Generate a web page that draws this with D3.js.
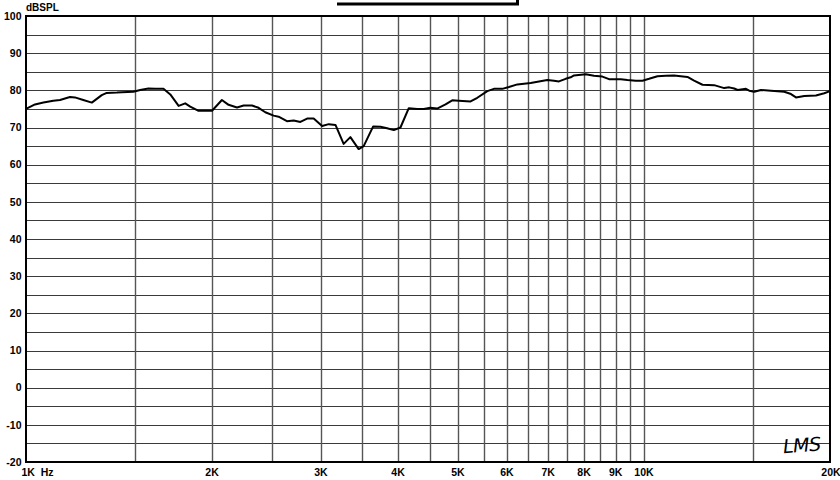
<!DOCTYPE html>
<html><head><meta charset="utf-8">
<script src="https://cdn.jsdelivr.net/npm/d3@7"></script>
<style>
html,body{margin:0;padding:0;background:#fff;}
svg{display:block;}
text{font-family:"Liberation Sans",Arial,sans-serif;font-weight:bold;fill:#000;}
</style></head><body>
<svg id="c" width="840" height="480"></svg>
<script>
// ---- data ----
const freqs = [1000,1034,1067,1107,1135,1178,1200,1238,1278,1326,1351,1403,1429,1492,1530,1578,1618,1669,1712,1766,1810,1844,1902,2000,2075,2127,2195,2250,2321,2379,2439,2516,2563,2644,2711,2780,2850,2921,3014,3090,3168,3266,3349,3454,3519,3646,3746,3840,3937,4036,4163,4296,4403,4512,4627,4774,4895,5016,5241,5374,5578,5717,5898,6046,6239,6555,6762,6976,7150,7285,7469,7610,7704,8049,8301,8565,8779,9173,9402,9699,9944,10192,10516,10847,11187,11470,11760,12053,12436,12988,13484,13738,13997,14176,14443,14622,14803,15081,15463,16049,16866,17293,17619,18173,18979,19576,20000];
const spl = [75.0,76.2,76.7,77.2,77.4,78.2,78.1,77.4,76.7,78.7,79.3,79.4,79.5,79.6,80.1,80.5,80.4,80.4,78.9,75.8,76.5,75.6,74.5,74.5,77.4,76.1,75.4,75.9,75.9,75.3,74.1,73.2,72.9,71.7,71.9,71.5,72.4,72.4,70.4,70.9,70.7,65.6,67.4,64.2,65.0,70.3,70.2,69.8,69.3,70.0,75.2,75.0,75.0,75.3,75.1,76.2,77.3,77.2,77.0,78.0,79.8,80.4,80.4,80.9,81.6,82.0,82.4,82.8,82.6,82.4,83.1,83.5,84.0,84.3,83.9,83.7,83.0,83.0,82.8,82.6,82.6,83.1,83.8,83.9,84.0,83.8,83.6,82.6,81.5,81.4,80.6,80.8,80.5,80.1,80.3,80.4,79.9,79.6,80.1,79.9,79.6,79.0,78.1,78.5,78.6,79.2,79.8];
const gridFreqs = [1500,2000,2500,3000,3500,4000,4500,5000,5500,6000,6500,7000,7500,8000,8500,9000,9500,10000,15000];
const xTickFreqs = [2000,3000,4000,5000,6000,7000,8000,9000,10000,20000];
const xTickLabels = ["2K","3K","4K","5K","6K","7K","8K","9K","10K","20K"];
const yGrid = [-15,-10,-5,0,5,10,15,20,25,30,35,40,45,50,55,60,65,70,75,80,85,90,95];
const yTicks = [-20,-10,0,10,20,30,40,50,60,70,80,90,100];
const yUnit = "dBSPL";
const xUnitLabel = "1K  Hz";
const logo = "LMS";

// ---- drawing ----
const svg = d3.select("#c");
const L=26, R=830, T=16, B=462;
const x = d3.scaleLog().domain([1000,20000]).range([L,R]);
const y = d3.scaleLinear().domain([-20,100]).range([B,T]);

// title underline remnant
svg.append("line").attr("x1",337).attr("x2",519).attr("y1",4).attr("y2",4)
  .attr("stroke","#000").attr("stroke-width",3);
svg.append("line").attr("x1",517.5).attr("x2",517.5).attr("y1",0).attr("y2",5)
  .attr("stroke","#000").attr("stroke-width",3);

// horizontal grid
svg.append("g").selectAll("line").data(yGrid).join("line")
  .attr("x1",L).attr("x2",R)
  .attr("y1",d=>Math.round(y(d))+0.5).attr("y2",d=>Math.round(y(d))+0.5)
  .attr("stroke","#3a3a3a").attr("stroke-width",1.2);
// vertical grid
svg.append("g").selectAll("line").data(gridFreqs).join("line")
  .attr("x1",d=>Math.round(x(d))+0.5).attr("x2",d=>Math.round(x(d))+0.5)
  .attr("y1",T).attr("y2",B)
  .attr("stroke","#555").attr("stroke-width",1.4);

// frame
svg.append("rect").attr("x",L).attr("y",T).attr("width",R-L).attr("height",B-T)
  .attr("fill","none").attr("stroke","#000").attr("stroke-width",2);

// y labels
svg.append("g").selectAll("text").data(yTicks).join("text")
  .attr("x",21.5).attr("y",d=>y(d)).attr("dy","0.36em")
  .attr("text-anchor","end").attr("font-size","10.5px").text(d=>d);
svg.append("text").attr("x",26).attr("y",11).attr("font-size","10px").text(yUnit);

// x labels
svg.append("g").selectAll("text").data(xTickFreqs).join("text")
  .attr("x",(d,i)=>x(d)+(i===xTickFreqs.length-1?1:0)).attr("y",476)
  .attr("text-anchor","middle").attr("font-size","10.5px")
  .text((d,i)=>xTickLabels[i]);
svg.append("text").attr("x",21.5).attr("y",476).attr("font-size","10.5px")
  .attr("xml:space","preserve").style("white-space","pre").text(xUnitLabel);

// logo
svg.append("text").attr("x",783).attr("y",452)
  .attr("font-size","19px").style("font-weight","normal").style("font-style","italic")
  .style("font-family","'DejaVu Sans', sans-serif")
  .attr("transform","rotate(-4,800,445)")
  .attr("textLength",38).text(logo);

// curve
const line = d3.line().x(d=>x(d[0])).y(d=>y(d[1]));
svg.append("path").datum(freqs.map((f,i)=>[f,spl[i]]))
  .attr("d",line).attr("fill","none").attr("stroke","#000")
  .attr("stroke-width",2).attr("stroke-linejoin","round");
</script></body></html>
